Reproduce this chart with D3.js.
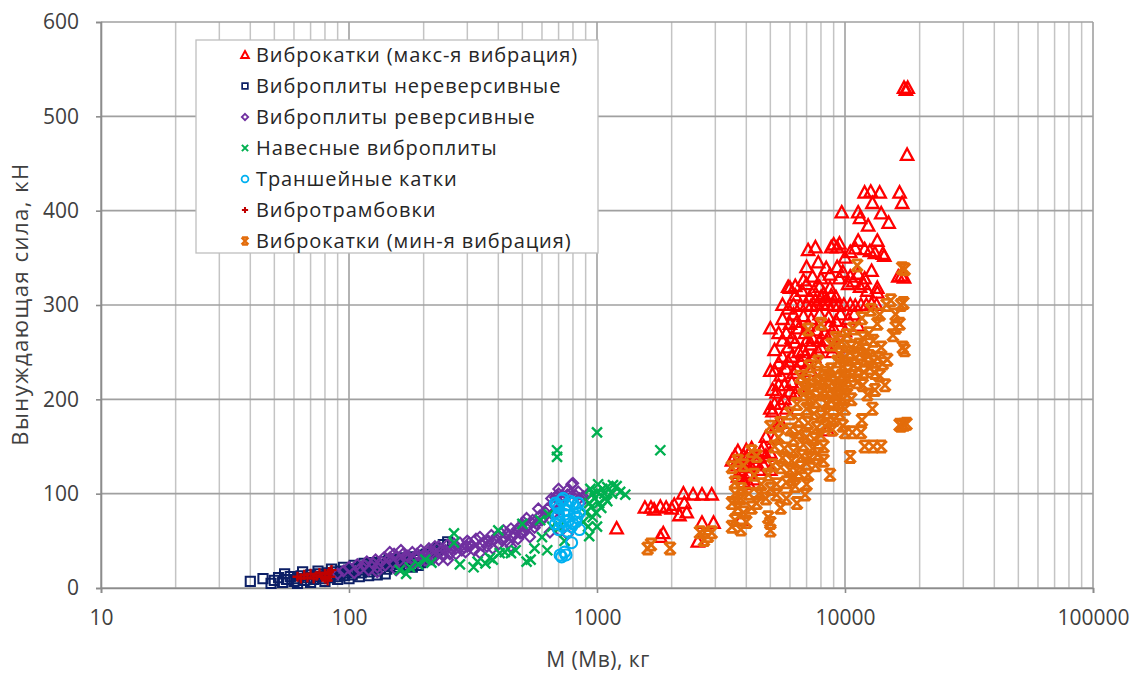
<!DOCTYPE html>
<html><head><meta charset="utf-8">
<script src="https://cdn.jsdelivr.net/npm/d3@7"></script>
<style>
html,body{margin:0;padding:0;background:#fff;}
svg{display:block;font-family:"Open Sans","Noto Sans",sans-serif;}
</style></head>
<body><svg id="c" width="1137" height="673"></svg>
<script>
// ---- data ----
const xTicks = [10, 100, 1000, 10000, 100000];
const yTicks = [0, 100, 200, 300, 400, 500, 600];
const seriesNames = [
  "Виброкатки (макс-я вибрация)",
  "Виброплиты нереверсивные",
  "Виброплиты реверсивные",
  "Навесные виброплиты",
  "Траншейные катки",
  "Вибротрамбовки",
  "Виброкатки (мин-я вибрация)"
];
const rollersMax = [
  [17300,530],[17600,528],[17900,530],[17800,459],
  [12000,419],[12700,420],[13800,419],[16600,419],[17000,408],[12900,408],[9700,398],[11300,398],[11500,392],[14000,397],[15000,387],[12400,384],
  [11300,368],[13500,368],[9000,364],[9500,365],[7600,361],[7100,358],[10500,356],[14200,354],[10000,350],[8800,361],[9300,361],[12000,359],[12600,357],[13200,355],[14400,352],[11000,360],
  [8400,339],[16400,330],[16900,331],[17300,329],[9800,335],[10500,330],[11300,333],[12000,328],[12800,336],[10800,325],[11900,322],[13500,318],[9500,328],
  [5900,319],[6000,318],[7900,319],[8700,318],[10300,322],[11500,319],[12300,315],[13500,313],[7000,322],[7500,315],[8200,312],
  [6200,300],[6600,299],[7000,300],[7300,299],[7700,300],[8100,301],[8500,300],[9000,300],[9400,299],[9900,300],[10500,300],[11000,299],[11600,300],[12200,300],[12800,301],[13400,300],
  [6200,290],[6800,288],[7300,285],[7900,290],[8600,287],[9200,283],[6000,280],[6500,275],[7100,278],[7700,273],[8300,270],[9000,275],[10000,272],[5600,285],[5400,270],
  [5000,275],[5200,252],[5600,262],[5900,255],[6300,260],[6800,252],[7300,258],[7800,250],[8400,262],[9300,255],[6100,245],[6600,240],[7100,238],[5400,238],
  [5200,230],[5500,225],[5800,232],[6200,228],[6700,222],[7300,230],[5000,230],[5100,210],[5300,207],[5700,215],[6000,208],
  [5000,190],[5100,187],[5200,158],[5000,143],[8500,167],[5300,172],[5500,195],
  [3700,145],[3900,140],[4100,142],[4300,138],[3600,130],[3800,125],[4000,130],[4200,128],[4400,133],[3700,118],[3900,112],[4100,120],[4500,125],[3500,135],[4600,145],[4000,146],[3800,122],[4300,115],
  [1560,85],[1650,85],[1800,86],[1900,85],[2050,88],[2250,90],[2230,100],[2440,99],[2650,99],[2900,99],[2150,77],[2300,80],[1850,58],[1800,54],[2650,69],[2950,69],[2550,49],[1200,63],[3800,72],[1700,83],[2000,84],
  [6300,310],[6700,315],[7200,308],[7600,305],[8000,308],[8400,305],[8800,310],[9200,308],[6400,282],[6900,270],[7400,265],[7900,262],[8600,278],[9600,290],[10300,285],[10900,290],[11300,278],
  [6500,250],[7000,262],[7500,245],[8000,255],[8900,250],[5800,270],[6100,265],[5600,245],[5900,240],[6400,232],[6900,246],[5400,215],[5700,200],[6100,218],[6500,212],[5200,195],[5800,190],[6300,205],
  [5600,300],[5900,296],[6300,320],[6800,326],[7400,330],[8000,328],[8700,332],[9300,340],[7000,340],[7800,345],[5500,175],
  [4700,150],[4800,140],[3600,140],[4200,148],[4500,138],[3900,128],[4700,130],[3800,135],[5000,125],[4100,110],[4800,160]
];
const platesNonRev = [
  [40,7],[45,10],[48.5,5],[50,8],[52,11],[54,6],[56,9],[58,12],[60,7],[62,10],[64,13],[66,8],[68,11],[70,14],[72,9],[74,12],[76,15],[78,10],[80,13],[82,16],[84,11],[86,14],[88,17],[90,12],[92,15],[94,18],[96,13],[98,16],[100,19],[103,14],[106,17],[109,21],[112,16],[115,19],[118,22],[121,17],[124,20],[127,23],[130,18],[134,21],[138,24],[142,20],[146,23],[150,26],[155,22],[160,25],[165,28],[170,24],
  [62,5],[70,6],[80,7],[90,9],[100,10],[110,12],[120,13],[130,14],[140,15],[75,18],[85,20],[95,22],[105,24],[115,26],[125,27],[135,28],[145,30],[155,31],[165,32],
  [250,49],[240,46],[230,42],[200,35],[185,30],[55,15],[65,17],[180,22],[195,27],[210,30],
  [105,20],[112,23],[120,25],[128,26],[136,25],[148,28],[158,29],[168,30],[175,33],[190,33],[205,36],[220,40],[215,33],[225,38],[175,27],[190,24]
];
const platesRev = [
  [90,15],[95,18],[100,22],[105,16],[110,20],[115,24],[120,19],[125,26],[130,22],[135,28],[140,24],[146,32],[146,38],[150,27],[155,19],[155,33],[160,29],[165,36],[170,31],[175,24],[180,38],[185,33],[190,27],[195,40],[200,35],[205,29],[210,42],[215,37],[220,32],[230,44],[235,39],[240,34],[250,30],[250,46],[260,41],[270,36],[280,48],[290,43],[295,38],[300,50],[310,45],[320,40],[337,54],[337,37],[350,49],[360,44],[375,56],[385,51],[400,46],[410,58],[420,61],[425,53],[440,48],[450,63],[465,57],[480,52],[495,66],[510,60],[520,74],[536,54],[545,69],[560,64],[590,77],[600,72],[646,59],[620,80],
  [680,96],[700,100],[720,97],[740,96],[760,99],[790,110],[820,98],[850,95],[880,97],[920,100],[700,105],[760,104],[660,78],[700,82],[560,70],[580,84],[300,44],[230,30],[180,30],[130,17],[450,44],[380,42],[270,42],[500,58],[710,60],[760,57],[800,111],
  [108,25],[118,28],[128,30],[138,32],[152,36],[162,40],[172,34],[188,36],[198,31],[208,38],[222,44],[245,40],[255,36],[265,47],[285,40],[305,48],[325,52],[345,45],[365,50],[395,55],[415,50],[435,58],[455,54],[475,62],[490,58],[505,70],[525,66],[550,72],[570,68],[610,75],[630,84],[655,95],[670,90],[690,98],[730,92],[780,100],[840,102],[870,92]
];
const mountedPlates = [
  [160,19],[176,22],[203,30],[265,58],[265,48],[318,22],[355,26],[370,32],[400,61],[405,37],[425,38],[450,37],[540,30],[590,72],[630,40],[520,28],[600,54],
  [930,90],[960,100],[1000,102],[1050,105],[1100,107],[1160,109],[1240,102],[1300,99],[950,86],[1020,90],[960,75],[1000,65],[920,65],
  [690,146],[690,139],[1000,165],[1800,146],[170,15],[190,25],[215,27],[280,25],[330,28],[380,30],[470,40],[500,68],[560,42],[640,78],[700,64],[740,50],[1080,95],[900,80],
  [980,95],[1010,110],[1070,100],[1150,100],[1200,108],[940,105],[990,80],[1040,85],[880,70],[930,55],[660,65],[1100,92]
];
const trenchRollers = [
  [680,90],[700,85],[720,93],[750,88],[780,92],[820,85],[850,80],[690,75],[710,70],[740,78],[770,72],[800,68],[830,75],[700,62],[730,65],[760,60],[790,65],[820,70],[850,62],[680,68],[790,48],[710,35],[750,35],[720,33],[740,38],
  [700,78],[760,82],[810,78],[690,88],[730,95],[800,90],[840,90]
];
const rammers = [
  [62,12],[64,10],[66,14],[68,11],[70,15],[72,10],[74,13],[76,16],[78,12],[80,15],[82,8],[83,17],[84,12],[85,19],[80,10]
];
const rollersMin = [
  [17000,339],[17400,338],[16800,300],[17200,302],[16600,280],[17100,255],[17400,252],[16800,172],[17300,173],[17700,174],
  [11200,342],[11700,286],[13800,290],[16000,276],[15600,268],[14800,242],[13500,280],[12700,295],[14700,300],[15300,305],[16000,290],
  [9500,248],[10000,245],[10500,250],[11000,244],[11500,248],[12000,242],[12500,246],[13000,240],[13600,244],[14200,238],[9800,235],[10300,230],[10800,236],[11300,232],[11900,229],[12600,233],[13200,228],[9300,240],[10600,255],[11400,258],[12200,252],
  [6600,224],[7000,220],[7400,215],[7800,218],[8200,210],[8600,214],[9000,205],[9400,210],[6800,205],[7200,200],[7600,198],[8000,205],[8400,196],[8800,198],[9200,195],[9800,200],[10200,205],[7000,190],[7500,185],[8000,182],[8500,186],[9000,178],[6400,195],[6000,185],[7200,235],[7800,240],[8300,228],[8800,232],[9300,222],[10000,215],[8000,280],[9200,265],[7100,274],
  [11700,178],[16600,173],[10000,165],[10700,165],[11600,165],[12000,150],[13000,150],[14000,150],[10500,139],
  [5000,171],[5500,175],[6000,168],[6500,165],[7000,160],[7500,158],[8000,162],[5200,150],[5700,148],[6200,145],[6700,140],[7200,138],[7800,142],[5100,130],[5500,128],[6000,125],[6500,122],[7100,120],[8700,120],[5300,110],[5800,112],[6300,108],[6900,99],[5300,99],[4400,90],[4900,75],[4600,110],[4900,120],[5000,105],
  [3500,128],[3700,135],[3900,130],[4200,145],[3600,112],[3800,105],[4100,100],[3500,90],[3700,85],[3900,80],[3600,72],[3800,62],[3500,65],[4000,70],
  [1600,42],[1970,42],[2600,59],[2900,59],[2700,51],[5000,69],[5000,61],[2800,55],[1650,46],
  [6800,212],[7300,208],[7700,225],[8100,220],[8500,225],[8900,218],[9300,212],[9700,225],[10200,220],[10700,225],[11200,218],[11800,215],[6500,178],[7100,175],[7700,170],[8300,172],[8900,168],[9500,185],[10000,190],[10600,200],[9800,172],
  [6200,158],[6800,152],[7400,148],[8200,150],[7000,132],[7600,130],[8200,135],[5600,138],[6100,115],[5800,95],[6400,90],[5500,85],[4800,95],[6100,135],[7000,110],[5400,160],[6600,128],
  [8800,258],[9600,262],[10200,268],[10800,275],[11800,265],[12500,270],[13000,262],[14000,255],[12300,205],[13200,210],[14500,215],[13800,225],[12900,190],
  [4300,120],[4500,100],[3800,95],[4200,85],[3600,100],[4400,140]
];

// ---- chart ----
const svg = d3.select("#c");
const x = d3.scaleLog().domain([10, 100000]).range([101, 1093]);
const y = d3.scaleLinear().domain([0, 600]).range([588, 22]);

const minor = [];
[10, 100, 1000, 10000].forEach(d => { for (let k = 2; k <= 9; k++) minor.push(k * d); });
svg.append("g").selectAll("line").data(minor).join("line")
  .attr("x1", d => x(d)).attr("x2", d => x(d)).attr("y1", y(600)).attr("y2", y(0))
  .attr("stroke", "#c4c4c4").attr("stroke-width", 1.5);
svg.append("g").selectAll("line").data(xTicks).join("line")
  .attr("x1", d => x(d)).attr("x2", d => x(d)).attr("y1", y(600)).attr("y2", y(0))
  .attr("stroke", "#a0a0a0").attr("stroke-width", 1.6);
svg.append("g").selectAll("line").data(yTicks).join("line")
  .attr("x1", x(10)).attr("x2", x(100000)).attr("y1", d => y(d)).attr("y2", d => y(d))
  .attr("stroke", "#a0a0a0").attr("stroke-width", 1.6);

const yAxis = svg.append("g").attr("transform", `translate(${x(10)},0)`)
  .call(d3.axisLeft(y).tickValues(yTicks).tickSize(5).tickPadding(17).tickFormat(d3.format("d")));
const xAxis = svg.append("g").attr("transform", `translate(0,${y(0)})`)
  .call(d3.axisBottom(x).tickValues(xTicks).tickSize(5).tickPadding(17).tickFormat(d3.format("d")));
[yAxis, xAxis].forEach(g => {
  g.select(".domain").attr("stroke", "#8c8c8c").attr("stroke-width", 1.6);
  g.selectAll(".tick line").attr("stroke", "#8c8c8c").attr("stroke-width", 1.6);
  g.selectAll(".tick text").attr("fill", "#404040").attr("font-size", 21)
    .attr("font-family", "\"Open Sans\",sans-serif");
});

svg.append("text").attr("x", 598).attr("y", 667).attr("text-anchor", "middle")
  .attr("font-size", 21).attr("letter-spacing", 0.5).attr("fill", "#404040").text("M (Мв), кг");
svg.append("text").attr("transform", "translate(28,304) rotate(-90)").attr("text-anchor", "middle")
  .attr("font-size", 22).attr("letter-spacing", 1.5).attr("fill", "#404040").text("Вынуждающая сила, кН");

const shapes = {
  tri: s => `M0,${-s}L${s*0.95},${s*0.75}L${-s*0.95},${s*0.75}Z`,
  sq: s => `M${-s},${-s}H${s}V${s}H${-s}Z`,
  dia: s => `M0,${-s}L${s},0L0,${s}L${-s},0Z`,
  cross: s => `M${-s},${-s}L${s},${s}M${s},${-s}L${-s},${s}`,
  circ: s => `M${s},0A${s},${s} 0 1,1 ${-s},0A${s},${s} 0 1,1 ${s},0Z`,
  plus: s => `M${-s},0H${s}M0,${-s}V${s}`,
  star: s => `M${-s},${-s}L${s},${s}M${s},${-s}L${-s},${s}M${-s*0.85},${-s}H${s*0.85}M${-s*0.85},${s}H${s*0.85}`
};
const series = [
  { data: rollersMax,   shape: "tri",   size: 6.5, color: "#ff0000", sw: 2.3 },
  { data: platesNonRev, shape: "sq",    size: 4.6, color: "#0c1f66", sw: 2 },
  { data: platesRev,    shape: "dia",   size: 5.2, color: "#7030a0", sw: 2.1 },
  { data: mountedPlates,shape: "cross", size: 5,   color: "#00b050", sw: 2.4 },
  { data: trenchRollers,shape: "circ",  size: 5.5, color: "#00b0f0", sw: 2.1 },
  { data: rammers,      shape: "plus",  size: 5,   color: "#c00000", sw: 2.4 },
  { data: rollersMin,   shape: "star",  size: 5.6, color: "#e36c0a", sw: 2.8 }
];
const plot = svg.append("g");
series.forEach(s => {
  plot.append("g").selectAll("path").data(s.data).join("path")
    .attr("transform", d => `translate(${x(d[0])},${y(d[1])})`)
    .attr("d", shapes[s.shape](s.size))
    .attr("fill", "none").attr("stroke", s.color).attr("stroke-width", s.sw);
});

const lg = svg.append("g");
lg.append("rect").attr("x", 196).attr("y", 40).attr("width", 402).attr("height", 213)
  .attr("fill", "#fff").attr("stroke", "#bfbfbf").attr("stroke-width", 1.3);
series.forEach((s, i) => {
  const yy = 55 + i * 31;
  lg.append("path").attr("transform", `translate(245,${yy})`)
    .attr("d", shapes[s.shape](s.size * 0.62))
    .attr("fill", "none").attr("stroke", s.color).attr("stroke-width", s.sw * 0.85);
  lg.append("text").attr("x", 256).attr("y", yy).attr("dy", "0.35em")
    .attr("font-size", 20).attr("letter-spacing", 0.9).attr("fill", "#262626").text(seriesNames[i]);
});
</script></body></html>
